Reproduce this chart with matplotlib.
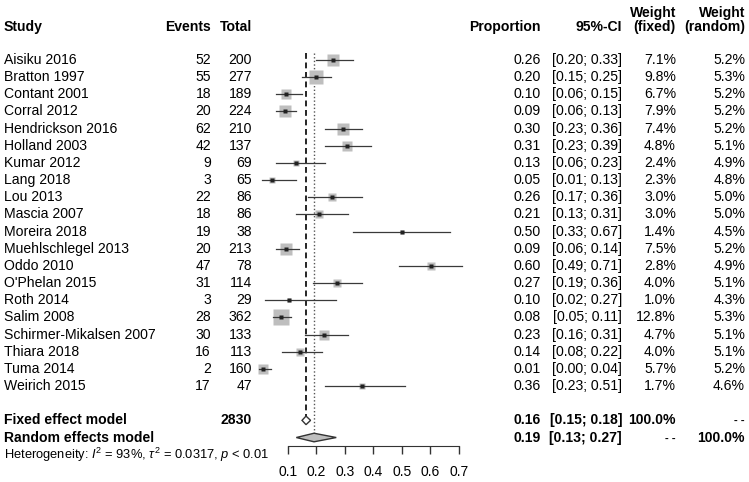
import numpy as np
import matplotlib
matplotlib.use("Agg")
import matplotlib.pyplot as plt
import matplotlib.transforms as mtransforms

plt.rcParams["font.family"] = ["Liberation Sans", "DejaVu Sans"]
plt.rcParams["mathtext.fontset"] = "custom"
plt.rcParams["mathtext.rm"] = "Liberation Sans"
plt.rcParams["mathtext.it"] = "Liberation Sans:italic"

# data
studies = ["Aisiku 2016", "Bratton 1997", "Contant 2001", "Corral 2012",
           "Hendrickson 2016", "Holland 2003", "Kumar 2012", "Lang 2018",
           "Lou 2013", "Mascia 2007", "Moreira 2018", "Muehlschlegel 2013",
           "Oddo 2010", "O'Phelan 2015", "Roth 2014", "Salim 2008",
           "Schirmer-Mikalsen 2007", "Thiara 2018", "Tuma 2014", "Weirich 2015"]
events = [52, 55, 18, 20, 62, 42, 9, 3, 22, 18, 19, 20, 47, 31, 3, 28, 30, 16, 2, 17]
totals = [200, 277, 189, 224, 210, 137, 69, 65, 86, 86, 38, 213, 78, 114, 29, 362, 133, 113, 160, 47]
ci_lo = [0.20, 0.15, 0.06, 0.06, 0.23, 0.23, 0.06, 0.01, 0.17, 0.13,
         0.33, 0.06, 0.49, 0.19, 0.02, 0.05, 0.16, 0.08, 0.00, 0.23]
ci_hi = [0.33, 0.25, 0.15, 0.13, 0.36, 0.39, 0.23, 0.13, 0.36, 0.31,
         0.67, 0.14, 0.71, 0.36, 0.27, 0.11, 0.31, 0.22, 0.04, 0.51]
w_fixed = [7.1, 9.8, 6.7, 7.9, 7.4, 4.8, 2.4, 2.3, 3.0, 3.0,
           1.4, 7.5, 2.8, 4.0, 1.0, 12.8, 4.7, 4.0, 5.7, 1.7]
w_random = [5.2, 5.3, 5.2, 5.2, 5.2, 5.1, 4.9, 4.8, 5.0, 5.0,
            4.5, 5.2, 4.9, 5.1, 4.3, 5.3, 5.1, 5.1, 5.2, 4.6]

fixed_est, fixed_lo, fixed_hi = 0.164, 0.15, 0.18
random_est, random_lo, random_hi = 0.192, 0.13, 0.27
heterogeneity = r"Heterogeneity: $I^2$ = 93%, $\tau^2$ = 0.0317, $p$ < 0.01"
xticks = [0.1, 0.2, 0.3, 0.4, 0.5, 0.6, 0.7]

prop = np.array(events) / np.array(totals)
rows = np.arange(len(studies))
row_fixed = len(studies) + 1
row_random = len(studies) + 2

W, H = 749, 482
fig = plt.figure(figsize=(W / 100, H / 100), dpi=100)
# axis 0 -> 259 px, 0.7 -> 459 px ; row 0 at 60 px, 17.16 px per row
ax = fig.add_axes([259.2 / W, 0, 199.8 / W, 1])
ax.set_xlim(0, 0.7)
ax.set_ylim((H - 60) / 17.16, -60 / 17.16)
ax.patch.set_visible(False)

# study squares, CI lines, points
sq = 3.02 * np.sqrt(w_fixed)
for r, p, lo, hi, s in zip(rows, prop, ci_lo, ci_hi, sq):
    ax.plot(p, r, "s", ms=s, color="#bebebe", mec="none", zorder=1, clip_on=False)
    ax.plot([lo, hi], [r, r], color="#3a3a3a", lw=0.9, zorder=2, clip_on=False)
    ax.plot(p, r, "s", ms=2.6, color="#222222", mec="none", zorder=3, clip_on=False)

# reference lines
ax.plot([fixed_est, fixed_est], [-0.4, row_fixed - 0.25], color="black",
        lw=1.2, dashes=(3.5, 2.2), zorder=0)
ax.plot([random_est, random_est], [-0.4, row_random - 0.25], color="#555555",
        lw=1.0, dashes=(1, 1.6), zorder=0)

# diamonds
dh = 0.25
ax.fill([fixed_lo, fixed_est, fixed_hi, fixed_est],
        [row_fixed, row_fixed - dh, row_fixed, row_fixed + dh],
        facecolor="white", edgecolor="#333333", lw=1.0, zorder=4)
ax.fill([random_lo, random_est, random_hi, random_est],
        [row_random, row_random - dh, row_random, row_random + dh],
        facecolor="#bebebe", edgecolor="#333333", lw=1.0, zorder=4)

# x axis
for s in ["left", "right", "top"]:
    ax.spines[s].set_visible(False)
ax.spines["bottom"].set_position(("data", (445.7 - 60) / 17.16))
ax.spines["bottom"].set_bounds(xticks[0], xticks[-1])
ax.spines["bottom"].set_color("#333333")
ax.set_yticks([])
ax.set_xticks(xticks)
ax.set_xticklabels([f"{t:.1f}" for t in xticks])
ax.tick_params(axis="x", direction="out", length=5.8, width=1.0, pad=8,
               labelsize=10, colors="#333333", labelcolor="black")

# text columns
tr = mtransforms.blended_transform_factory(fig.transFigure, ax.transData)
fs = 10.1


def txt(xpx, y, s, ha="right", bold=False, size=fs):
    ax.text(xpx / W, y, s, transform=tr, ha=ha, va="center", fontsize=size,
            fontweight="bold" if bold else "normal", clip_on=False)


hdr = -1.95
txt(4, hdr, "Study", ha="left", bold=True)
txt(211, hdr, "Events", bold=True)
txt(252, hdr, "Total", bold=True)
txt(541, hdr, "Proportion", bold=True)
txt(622, hdr, "95%-CI", bold=True)
txt(676, -2.76, "Weight", bold=True)
txt(676, hdr, "(fixed)", bold=True)
txt(745, -2.76, "Weight", bold=True)
txt(745, hdr, "(random)", bold=True)

for r in rows:
    txt(4, r, studies[r], ha="left")
    txt(211, r, str(events[r]))
    txt(252, r, str(totals[r]))
    txt(541, r, f"{prop[r]:.2f}")
    txt(622, r, f"[{ci_lo[r]:.2f}; {ci_hi[r]:.2f}]")
    txt(676, r, f"{w_fixed[r]:.1f}%")
    txt(745, r, f"{w_random[r]:.1f}%")

txt(4, row_fixed, "Fixed effect model", ha="left", bold=True)
txt(252, row_fixed, str(sum(totals)), bold=True)
txt(541, row_fixed, f"{fixed_est:.2f}", bold=True)
txt(622, row_fixed, f"[{fixed_lo:.2f}; {fixed_hi:.2f}]", bold=True)
txt(676, row_fixed, "100.0%", bold=True)
txt(745, row_fixed, "- -", bold=True, size=8)

txt(4, row_random, "Random effects model", ha="left", bold=True)
txt(541, row_random, f"{random_est:.2f}", bold=True)
txt(622, row_random, f"[{random_lo:.2f}; {random_hi:.2f}]", bold=True)
txt(676, row_random, "- -", bold=True, size=8)
txt(745, row_random, "100.0%", bold=True)

txt(4, row_random + 1, heterogeneity, ha="left", size=9.3)

fig.savefig("out.png", dpi=100)
